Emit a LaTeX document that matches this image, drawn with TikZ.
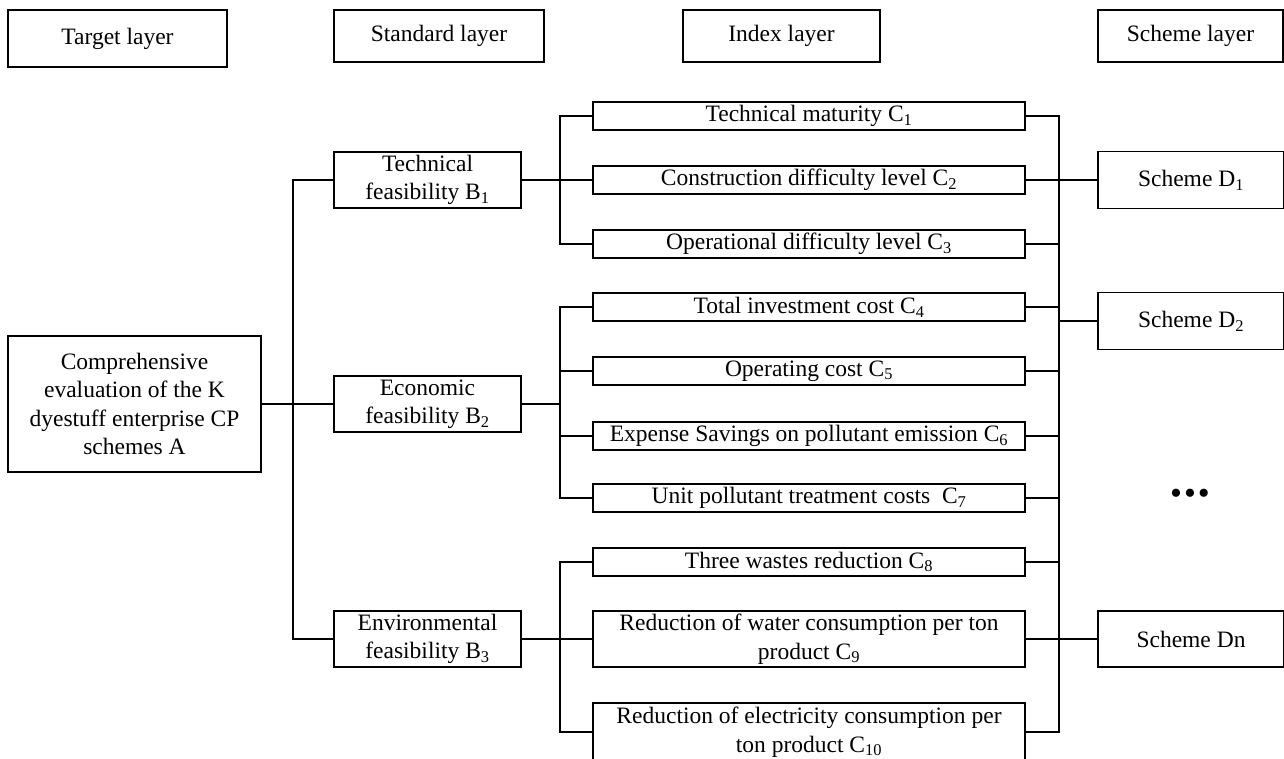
\documentclass[tikz,border=0pt]{standalone}
\usepackage{fontspec}
\setmainfont{Liberation Serif}
\begin{document}
\begin{tikzpicture}[x=1pt,y=-1pt,
  box/.style={draw,line width=1.4pt,inner sep=0pt,align=center,font=\fontsize{23.5}{28.5}\selectfont},
  cbox/.style={box,minimum width=432pt,minimum height=28pt},
  bbox/.style={box,minimum width=187pt,minimum height=56pt},
  dbox/.style={box,minimum width=186pt,minimum height=57pt},
  hbox/.style={box,minimum height=52pt},
  link/.style={line width=1.4pt}]
\useasboundingbox (0,0) rectangle (1284,758);
% headers
\node[hbox,minimum width=219pt,minimum height=57pt] (T) at (117.5,38.5) {Target layer};
\node[hbox,minimum width=210pt] (S) at (439,36) {Standard layer};
\node[hbox,minimum width=197pt] (I) at (781.5,36) {Index layer};
\node[hbox,minimum width=185pt] (SL) at (1190.5,36) {Scheme layer};
% target
\node[box,minimum width=253pt,minimum height=136pt] (A) at (134.5,404) {Comprehensive\\evaluation of the K\\dyestuff enterprise CP\\schemes A};
% criteria
\node[bbox] (B1) at (427.5,180) {Technical\\feasibility B\textsubscript{1}};
\node[bbox] (B2) at (427.5,404) {Economic\\feasibility B\textsubscript{2}};
\node[bbox] (B3) at (427.5,639) {Environmental\\feasibility B\textsubscript{3}};
% indices
\node[cbox] (C1) at (809,116) {Technical maturity C\textsubscript{1}};
\node[cbox] (C2) at (809,180) {Construction difficulty level C\textsubscript{2}};
\node[cbox] (C3) at (809,244) {Operational difficulty level C\textsubscript{3}};
\node[cbox] (C4) at (809,307) {Total investment cost C\textsubscript{4}};
\node[cbox] (C5) at (809,371) {Operating cost C\textsubscript{5}};
\node[cbox] (C6) at (809,436) {Expense Savings on pollutant emission C\textsubscript{6}};
\node[cbox] (C7) at (809,498) {Unit pollutant treatment costs~ C\textsubscript{7}};
\node[cbox] (C8) at (809,562) {Three wastes reduction C\textsubscript{8}};
\node[cbox,minimum height=56pt] (C9) at (809,639) {Reduction of water consumption per ton\\product C\textsubscript{9}};
\node[cbox,minimum height=58pt] (C10) at (809,732) {Reduction of electricity consumption per\\ton product C\textsubscript{10}};
% schemes
\node[dbox] (D1) at (1191,180) {Scheme D\textsubscript{1}};
\node[dbox] (D2) at (1191,321) {Scheme D\textsubscript{2}};
\node[dbox,minimum height=56pt] (Dn) at (1191,639) {Scheme Dn};
\node[font=\fontsize{34}{34}\selectfont,inner sep=0pt] (dots) at (1190,497) {•\kern2pt•\kern2pt•};
% junctions
\coordinate (ja) at (293,404);
\coordinate (jb1) at (560,180);
\coordinate (jb2) at (560,404);
\coordinate (jb3) at (560,639);
\coordinate (jr) at (1059,180);
% A to B
\draw[link] (A.east) -- (B2.west);
\draw[link] (B1.west) -| (ja) |- (B3.west);
% B1 to C1-C3
\draw[link] (B1.east) -- (C2.west);
\draw[link] (C1.west) -| (jb1) |- (C3.west);
% B2 to C4-C7
\draw[link] (B2.east) -- (jb2);
\draw[link] (C4.west) -| (jb2) |- (C7.west);
\draw[link] (C5.west) -- (C5.west -| jb2);
\draw[link] (C6.west) -- (C6.west -| jb2);
% B3 to C8-C10
\draw[link] (B3.east) -- (C9.west);
\draw[link] (C8.west) -| (jb3) |- (C10.west);
% C to D
\draw[link] (C1.east) -| (jr) |- (C10.east);
\draw[link] (C2.east) -- (D1.west);
\foreach \c in {C3,C4,C5,C6,C7,C8}{\draw[link] (\c.east) -- (\c.east -| jr);}
\draw[link] (D2.west) -- (D2.west -| jr);
\draw[link] (C9.east) -- (Dn.west);
\end{tikzpicture}
\end{document}
